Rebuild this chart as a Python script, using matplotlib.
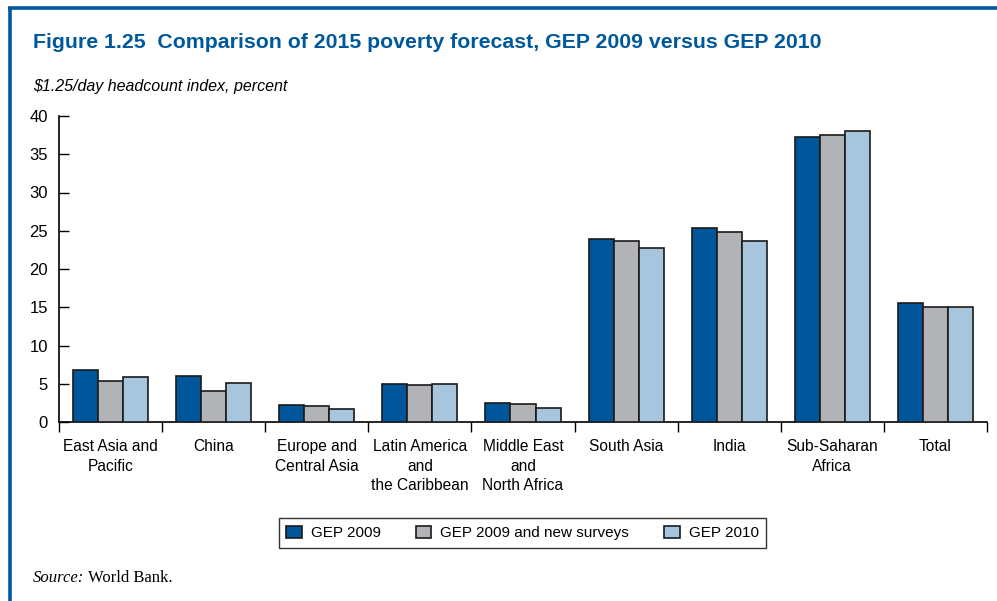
import numpy as np
import matplotlib.pyplot as plt
from matplotlib.lines import Line2D

categories = ["East Asia and\nPacific", "China", "Europe and\nCentral Asia",
              "Latin America\nand\nthe Caribbean", "Middle East\nand\nNorth Africa",
              "South Asia", "India", "Sub-Saharan\nAfrica", "Total"]
gep2009 = [6.8, 6.05, 2.2, 5.0, 2.5, 23.9, 25.4, 37.2, 15.5]
gep2009_new = [5.3, 4.1, 2.05, 4.8, 2.4, 23.6, 24.9, 37.5, 15.0]
gep2010 = [5.9, 5.05, 1.7, 5.0, 1.8, 22.8, 23.6, 38.0, 15.0]
series_names = ["GEP 2009", "GEP 2009 and new surveys", "GEP 2010"]
yticks = [0, 5, 10, 15, 20, 25, 30, 35, 40]

colors = ["#00569a", "#b1b3b6", "#a7c5dc"]
blue = "#00589c"

plt.rcParams['font.family'] = ['Liberation Sans', 'DejaVu Sans']

fig = plt.figure(figsize=(9.97, 6.01), dpi=100)
ax = fig.add_axes([59 / 997, 1 - 422 / 601, 928 / 997, 306 / 601])

x = np.arange(len(categories))
w = 0.243
for k, vals in enumerate([gep2009, gep2009_new, gep2010]):
    ax.bar(x + (k - 1) * w, vals, w, color=colors[k], edgecolor="#1a1a1a",
           linewidth=1.2, label=series_names[k], zorder=3)

ax.set_xlim(-0.5, len(categories) - 0.5)
ax.set_ylim(0, 40)
ax.set_yticks(yticks)
ax.tick_params(axis='y', direction='in', length=7, width=1, labelsize=12, pad=8)

# boundaries as major ticks, labels on minor ticks
ax.set_xticks(np.arange(-0.5, len(categories), 1.0))
ax.set_xticklabels([])
ax.set_xticks(x, minor=True)
ax.set_xticklabels(categories, minor=True, fontsize=11.2, linespacing=1.38)
ax.tick_params(axis='x', which='major', direction='out', length=7, width=1)
ax.tick_params(axis='x', which='minor', length=0, pad=12.5)

ax.spines['top'].set_visible(False)
ax.spines['right'].set_visible(False)
ax.spines['left'].set_linewidth(1.2)
ax.spines['bottom'].set_linewidth(1.2)

leg = fig.legend(loc='center', bbox_to_anchor=(522.5 / 997, 1 - 533 / 601), ncol=3,
                 fontsize=11, frameon=True, fancybox=False, edgecolor='black',
                 handlelength=1.0, handleheight=0.8, handletextpad=0.6,
                 columnspacing=2.3, borderpad=0.5)
leg.get_frame().set_linewidth(1.0)

fig.text(33 / 997, 1 - 42 / 601, "Figure 1.25  Comparison of 2015 poverty forecast, GEP 2009 versus GEP 2010",
         color=blue, fontsize=15.3, fontweight='bold', va='center')
fig.text(33 / 997, 1 - 87 / 601, r"\$1.25/day headcount index, percent",
         fontsize=11.5, style='italic', va='center')
fig.text(33 / 997, 1 - 578 / 601, "Source:", family='Liberation Serif',
         fontsize=12, style='italic', va='center')
fig.text(88 / 997, 1 - 578 / 601, "World Bank.", family='Liberation Serif',
         fontsize=12, va='center')

# blue frame on top and left
fig.add_artist(Line2D([9.5 / 997, 9.5 / 997], [0, 1 - 7.5 / 601], color=blue, lw=2.6,
                      transform=fig.transFigure, solid_capstyle='butt'))
fig.add_artist(Line2D([8 / 997, 1], [1 - 7.5 / 601, 1 - 7.5 / 601], color=blue, lw=2.6,
                      transform=fig.transFigure, solid_capstyle='butt'))

fig.savefig("out.png", dpi=100)
